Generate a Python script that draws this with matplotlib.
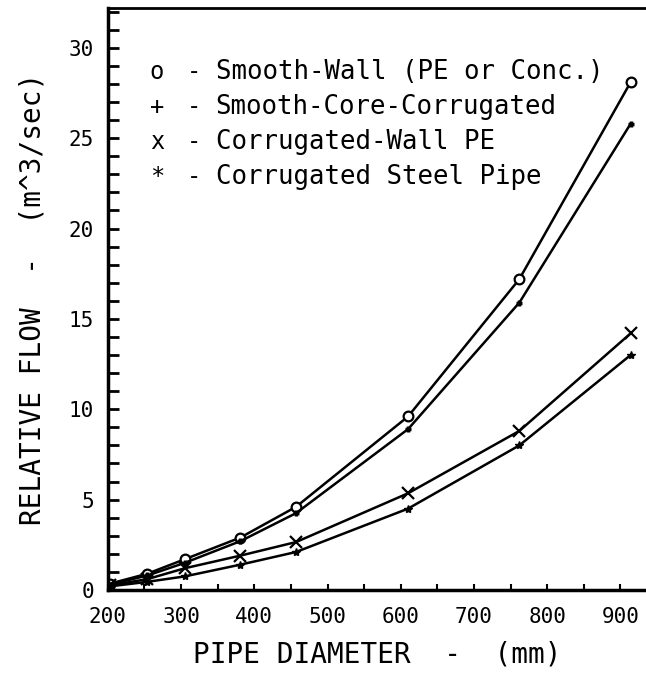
import numpy as np
import matplotlib
matplotlib.use('Agg')
import matplotlib.pyplot as plt
from matplotlib.ticker import MultipleLocator

# pipe diameters (mm) -- 8" to 36" pipe
diameter = [203, 254, 305, 381, 457, 610, 762, 914]

# relative flow (m^3/sec)
smooth_wall = [0.35, 0.9, 1.7, 2.9, 4.6, 9.6, 17.2, 28.1]
smooth_core = [0.3, 0.8, 1.5, 2.7, 4.25, 8.9, 15.9, 25.8]
corr_pe = [0.25, 0.6, 1.2, 1.9, 2.65, 5.35, 8.8, 14.2]
corr_steel = [0.2, 0.45, 0.75, 1.4, 2.1, 4.5, 8.0, 13.0]

legend_marks = ['o', '+', 'x', '*']
legend_names = ['Smooth-Wall (PE or Conc.)', 'Smooth-Core-Corrugated',
                'Corrugated-Wall PE', 'Corrugated Steel Pipe']

plt.rcParams['font.family'] = 'DejaVu Sans Mono'

fig = plt.figure(figsize=(6.46, 6.75), dpi=100)
ax = fig.add_axes([0.167, 0.126, 0.833, 0.862])

ax.plot(diameter, smooth_wall, '-', color='k', lw=1.8, marker='o', ms=7,
        mfc='white', mec='k', mew=1.6)
ax.plot(diameter, smooth_core, '-', color='k', lw=1.8, marker='+', ms=5, mew=2.5)
ax.plot(diameter, corr_pe, '-', color='k', lw=1.8, marker='x', ms=8, mew=1.6)
ax.plot(diameter, corr_steel, '-', color='k', lw=1.8, marker='*', ms=6)

# legend as plotter-style text lines: symbol, dash, name
for i, (m, name) in enumerate(zip(legend_marks, legend_names)):
    y = 0.89 - i * 0.06
    ax.text(0.091, y, m, transform=ax.transAxes, fontsize=17,
            va='center', ha='center')
    ax.text(0.16, y, '-', transform=ax.transAxes, fontsize=17,
            va='center', ha='center')
    ax.text(0.2, y, name, transform=ax.transAxes, fontsize=18.5,
            va='center', ha='left')

ax.set_xlim(200, 935)
ax.set_ylim(0, 32.2)
ax.xaxis.set_major_locator(MultipleLocator(100))
ax.xaxis.set_minor_locator(MultipleLocator(50))
ax.yaxis.set_major_locator(MultipleLocator(5))
ax.yaxis.set_minor_locator(MultipleLocator(1))

ax.tick_params(axis='y', which='both', direction='in', length=8, width=2,
               labelsize=15, pad=10)
ax.tick_params(axis='x', which='both', direction='in', length=4, width=1.5,
               labelsize=15, pad=12)

ax.spines['right'].set_visible(False)
ax.spines['left'].set_linewidth(2.5)
ax.spines['bottom'].set_linewidth(2.5)
ax.spines['top'].set_linewidth(2)

ax.set_xlabel('PIPE DIAMETER  -  (mm)', fontsize=20, labelpad=10)
ax.set_ylabel('RELATIVE FLOW  -  (m^3/sec)', fontsize=20, labelpad=16)

fig.savefig('out.png', dpi=100)
